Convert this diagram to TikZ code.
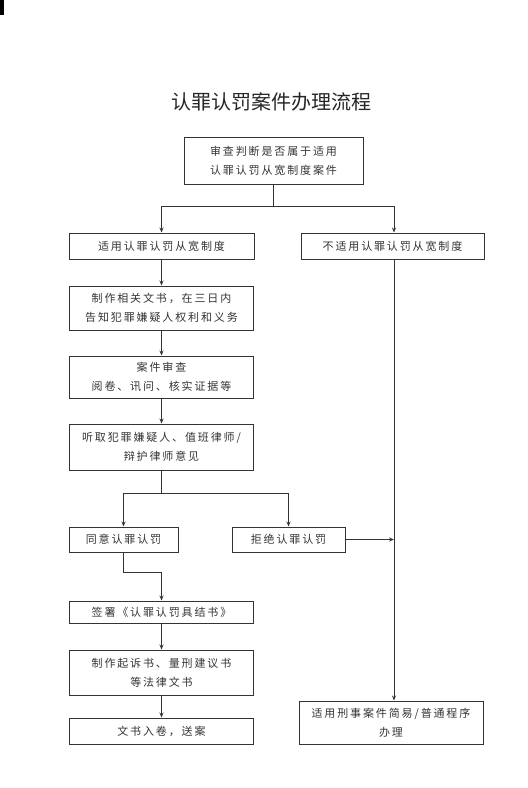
\documentclass[tikz,border=0pt]{standalone}
\usepackage{fontspec}
\usetikzlibrary{arrows.meta}
\newfontfamily\cjkbox{Noto Sans CJK SC}[LetterSpace=17]
\newfontfamily\cjktitle{Noto Sans CJK SC}
\definecolor{linec}{HTML}{333333}
\definecolor{textc}{HTML}{333333}
\tikzset{
  box/.style={draw=linec, line width=1pt, rectangle, align=center, inner sep=0pt,
    font=\cjkbox\fontsize{11}{19}\selectfont, text=textc},
  conn/.style={draw=linec, line width=1pt},
  arr/.style={conn, -{Stealth[length=5pt,width=4pt]}}
}
\begin{document}
\begin{tikzpicture}[x=1pt,y=-1pt]
\useasboundingbox (0,0) rectangle (528,788);
\fill[black] (0,0) rectangle (4,15);
\node[font=\cjktitle\fontsize{20}{24}\selectfont, text={black!85}] (title) at (271,102) {认罪认罚案件办理流程};
\node[box, minimum width=179, minimum height=47] (top) at (273.5,160.5) {审查判断是否属于适用\\认罪认罚从宽制度案件};
\node[box, minimum width=185, minimum height=26] (yes) at (161.5,246) {适用认罪认罚从宽制度};
\node[box, minimum width=183, minimum height=26] (no) at (392.5,246) {不适用认罪认罚从宽制度};
\node[box, minimum width=184, minimum height=44] (b2) at (161.5,308) {制作相关文书，在三日内\\告知犯罪嫌疑人权利和义务};
\node[box, minimum width=184, minimum height=42] (b3) at (161.5,377) {案件审查\\阅卷、讯问、核实证据等};
\node[box, minimum width=184, minimum height=46] (b4) at (161.5,447) {听取犯罪嫌疑人、值班律师/\\辩护律师意见};
\node[box, minimum width=109, minimum height=25] (agree) at (123.5,539.5) {同意认罪认罚};
\node[box, minimum width=113, minimum height=25] (refuse) at (288.5,539.5) {拒绝认罪认罚};
\node[box, minimum width=184, minimum height=22] (sign) at (161.5,612) {签署《认罪认罚具结书》};
\node[box, minimum width=184, minimum height=45] (b6) at (161.5,672.5) {制作起诉书、量刑建议书\\等法律文书};
\node[box, minimum width=184, minimum height=26] (b7) at (161.5,731) {文书入卷，送案};
\node[box, minimum width=184, minimum height=43] (final) at (391,722.5) {适用刑事案件简易/普通程序\\办理};
% connectors
\coordinate (s1) at (273.5,206);
\draw[conn] (top.south) -- (s1);
\draw[arr] (s1) -| (yes.north);
\draw[arr] (s1) -| ([xshift=1.5pt]no.north);
\draw[arr] (yes) -- (b2);
\draw[arr] (b2) -- (b3);
\draw[arr] (b3) -- (b4);
\coordinate (s2) at (161.5,493);
\draw[conn] (b4.south) -- (s2);
\draw[arr] (s2) -| (agree.north);
\draw[arr] (s2) -| (refuse.north);
\coordinate (s3) at (123.5,572);
\draw[arr] (agree.south) -- (s3) -| (sign.north);
\draw[arr] (sign) -- (b6);
\draw[arr] (b6) -- (b7);
\coordinate (v1) at ([xshift=1.5pt]no.south);
\coordinate (v2) at (v1 |- final.north);
\draw[arr] (v1) -- (v2);
\draw[arr] (refuse.east) -- (refuse.east -| v1);
\end{tikzpicture}
\end{document}
